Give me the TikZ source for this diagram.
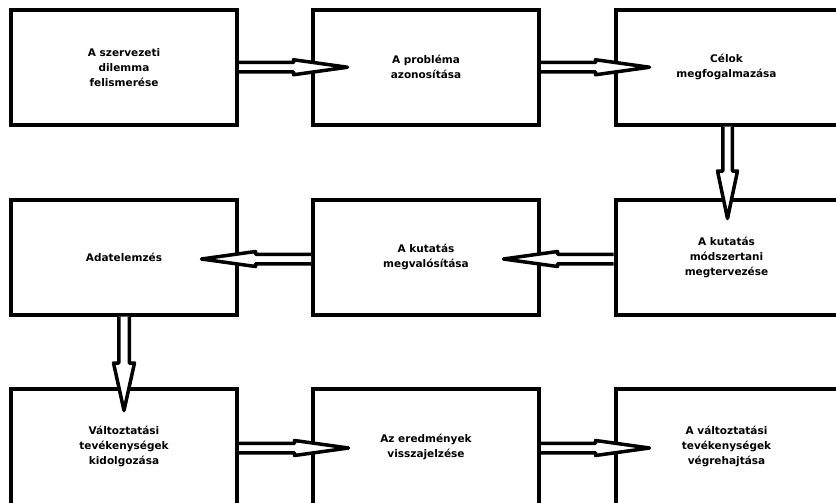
\documentclass[tikz,border=0pt]{standalone}
\usepackage{fontspec}
\setmainfont{DejaVu Sans}
\usetikzlibrary{calc}

\tikzset{
  stage/.style={draw=black, line width=4pt, fill=white, inner sep=0pt,
    minimum width=226pt, minimum height=114.5pt, align=center,
    font=\bfseries\fontsize{10.5}{15}\selectfont},
  flowline/.style={draw=black, line width=3.5pt, line join=round},
}

% Hollow block arrow: #1 start, #2 tip, #3 shaft half-width,
% #4 head half-width, #5 head length
\newcommand\hollowarrow[5]{%
  \coordinate (hb) at ($(#2)!#5!(#1)$);
  \coordinate (sl) at ($(#1)!#3!90:(#2)$);
  \coordinate (sr) at ($(#1)!#3!-90:(#2)$);
  \coordinate (hl) at ($(hb)!#3!90:(#2)$);
  \coordinate (hr) at ($(hb)!#3!-90:(#2)$);
  \coordinate (wl) at ($(hb)!#4!90:(#2)$);
  \coordinate (wr) at ($(hb)!#4!-90:(#2)$);
  \fill[white] (sl) -- (hl) -- (wl) -- (#2) -- (wr) -- (hr) -- (sr) -- cycle;
  \draw[flowline] (sl) -- (hl) -- (wl) -- (#2) -- (wr) -- (hr) -- (sr);
}

\begin{document}
\begin{tikzpicture}[x=1pt, y=-1pt]
  \useasboundingbox (0,0) rectangle (836,503);
  \fill[white] (0,0) rectangle (836,503);
  \begin{scope}
    \clip (0,0) rectangle (836,503);

    % first row
    \node[stage] (b1) at (124,67.25) {A szervezeti\\dilemma\\felismerése};
    \node[stage] (b2) at (426,67.25) {A probléma\\azonosítása};
    \node[stage, minimum width=222pt] (b3) at (726.5,67.25) {Célok\\megfogalmazása};

    % second row
    \node[stage] (b4) at (124,257.25) {Adatelemzés};
    \node[stage] (b5) at (426,257.25) {A kutatás\\megvalósítása};
    \node[stage, minimum width=222pt] (b6) at (726.5,257.25) {A kutatás\\módszertani\\megtervezése};

    % third row
    \node[stage, minimum height=116pt] (b7) at (124,446.5) {Változtatási\\tevékenységek\\kidolgozása};
    \node[stage, minimum height=116pt] (b8) at (426,446.5) {Az eredmények\\visszajelzése};
    \node[stage, minimum width=222pt, minimum height=116pt] (b9) at (726.5,446.5) {A változtatási\\tevékenységek\\végrehajtása};

    % connector ends
    \coordinate (s1) at (b1.east);
    \coordinate (t1) at ([xshift=36.5pt]b2.west);
    \coordinate (s2) at (b2.east);
    \coordinate (t2) at ([xshift=36pt]b3.west);
    \coordinate (s3) at ([xshift=1pt]b3.south);
    \coordinate (t3) at ([xshift=1pt,yshift=-20.5pt]b6.north);
    \coordinate (s4) at ([yshift=-1.75pt]b6.west);
    \coordinate (t4) at ([xshift=-37.5pt,yshift=-1.75pt]b5.east);
    \coordinate (s5) at ([yshift=-1.75pt]b5.west);
    \coordinate (t5) at ([xshift=-37.5pt,yshift=-1.75pt]b4.east);
    \coordinate (s6) at (b4.south);
    \coordinate (t6) at ([yshift=-24pt]b7.north);
    \coordinate (s7) at ([yshift=-1.5pt]b7.east);
    \coordinate (t7) at ([xshift=37.5pt,yshift=-1.5pt]b8.west);
    \coordinate (s8) at ([yshift=-1.5pt]b8.east);
    \coordinate (t8) at ([xshift=36pt,yshift=-1.5pt]b9.west);

    % connectors
    \hollowarrow{s1}{t1}{4.75pt}{7.5pt}{54pt}
    \hollowarrow{s2}{t2}{4.75pt}{7.5pt}{54pt}
    \hollowarrow{s3}{t3}{4.75pt}{10pt}{47.5pt}
    \hollowarrow{s4}{t4}{4.75pt}{7.5pt}{54pt}
    \hollowarrow{s5}{t5}{4.75pt}{7.5pt}{54pt}
    \hollowarrow{s6}{t6}{5.25pt}{10.5pt}{47.5pt}
    \hollowarrow{s7}{t7}{4.75pt}{7.5pt}{54pt}
    \hollowarrow{s8}{t8}{4.75pt}{7.5pt}{54pt}
  \end{scope}
\end{tikzpicture}
\end{document}
